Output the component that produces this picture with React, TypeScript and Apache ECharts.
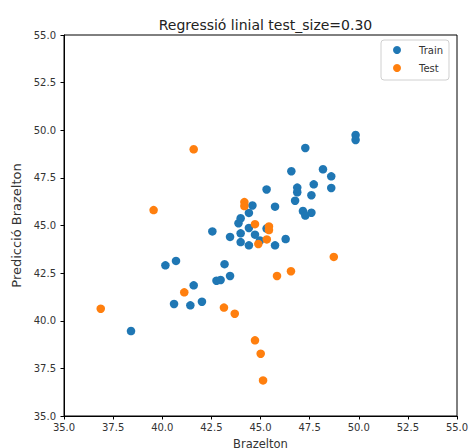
import React, { useEffect, useRef } from "react";
import * as echarts from "echarts";

const chartTitle = "Regressió linial test_size=0.30";
const xAxisName = "Brazelton";
const yAxisName = "Predicció Brazelton";
const seriesNames = ["Train", "Test"];

const trainX = [38.41, 40.16, 40.70, 40.60, 41.43, 41.60, 42.02, 42.55, 42.76, 42.97, 43.17, 43.45, 43.45, 43.99, 43.99, 44.41, 44.72, 44.97, 45.74, 46.28, 44.41, 43.99, 43.88, 44.41, 44.59, 45.31, 45.74, 46.76, 46.87, 46.87, 47.16, 47.28, 47.59, 47.59, 47.71, 48.60, 48.60, 48.18, 46.57, 47.28, 49.84, 49.84, 45.31];
const trainY = [39.46, 42.91, 43.14, 40.88, 40.81, 41.86, 41.00, 44.69, 42.10, 42.14, 42.97, 42.35, 44.40, 44.59, 44.13, 43.96, 44.52, 44.21, 43.96, 44.29, 44.87, 45.38, 45.12, 45.66, 46.05, 46.89, 45.99, 46.30, 46.99, 46.74, 45.76, 45.52, 45.67, 46.59, 47.16, 46.97, 47.58, 47.95, 47.85, 49.07, 49.75, 49.49, 44.84];

const testX = [41.60, 39.56, 36.87, 41.12, 44.18, 44.18, 44.72, 45.43, 45.43, 45.32, 44.89, 48.73, 45.84, 46.55, 43.14, 43.69, 44.72, 45.01, 45.13];
const testY = [49.00, 45.81, 40.63, 41.49, 46.23, 46.02, 45.07, 44.95, 44.76, 44.27, 44.03, 43.35, 42.35, 42.60, 40.69, 40.37, 38.97, 38.27, 36.87];

const axisMin = 35;
const axisMax = 55;
const axisInterval = 2.5;

const FONT = "DejaVu Sans";

export default function App() {
  const ref = useRef<HTMLDivElement>(null);
  useEffect(() => {
    if (!ref.current) return;
    const chart = echarts.init(ref.current, undefined, { renderer: "svg" });
    const trainData = trainX.map((x, i) => [x, trainY[i]]);
    const testData = testX.map((x, i) => [x, testY[i]]);
    const axisCommon = {
      type: "value" as const,
      min: axisMin,
      max: axisMax,
      interval: axisInterval,
      splitLine: { show: false },
      axisLine: { show: true, lineStyle: { color: "#000", width: 1 } },
      axisTick: { show: true, inside: false, length: 3.5, lineStyle: { color: "#000" } },
      nameLocation: "middle" as const,
    };
    chart.setOption({
      animation: false,
      backgroundColor: "#fff",
      title: {
        text: chartTitle,
        left: 260.5,
        textAlign: "center",
        top: 13,
        textStyle: { fontFamily: FONT, fontSize: 14, fontWeight: "normal", color: "#222" },
      },
      legend: {
        data: seriesNames,
        orient: "vertical",
        left: 381,
        top: 40,
        icon: "circle",
        itemWidth: 8,
        itemHeight: 8,
        itemGap: 4,
        padding: [3, 6, 5, 12],
        borderColor: "#d0d0d0",
        borderWidth: 1,
        borderRadius: 3,
        backgroundColor: "#fff",
        textStyle: { fontFamily: FONT, fontSize: 10, color: "#333", lineHeight: 14, padding: [0, 0, 0, 13] },
      },
      grid: {
        left: 64,
        right: 12,
        top: 35,
        bottom: 32,
        show: true,
        borderColor: "#000",
        borderWidth: 1,
        backgroundColor: "transparent",
        containLabel: false,
        outerBoundsMode: "none",
      },
      xAxis: {
        ...axisCommon,
        name: xAxisName,
        nameGap: 22,
        nameTextStyle: { fontFamily: FONT, fontSize: 11.5, color: "#333" },
        axisLabel: {
          margin: 6,
          fontFamily: FONT,
          fontSize: 10,
          color: "#333",
          formatter: (v: number) => v.toFixed(1),
        },
      },
      yAxis: {
        ...axisCommon,
        name: yAxisName,
        nameGap: 40,
        nameTextStyle: { fontFamily: FONT, fontSize: 13, color: "#333" },
        axisLabel: {
          margin: 8,
          fontFamily: FONT,
          fontSize: 10,
          color: "#333",
          formatter: (v: number) => v.toFixed(1),
        },
      },
      series: [
        {
          name: seriesNames[0],
          type: "scatter",
          data: trainData,
          symbolSize: 8.5,
          itemStyle: { color: "#1f77b4", opacity: 1 },
        },
        {
          name: seriesNames[1],
          type: "scatter",
          data: testData,
          symbolSize: 8.5,
          itemStyle: { color: "#ff7f0e", opacity: 1 },
        },
      ],
    });
    return () => chart.dispose();
  }, []);
  return (
    <div
      ref={ref}
      style={{ position: "fixed", left: 0, top: 0, width: 469, height: 448, background: "#fff" }}
    />
  );
}
